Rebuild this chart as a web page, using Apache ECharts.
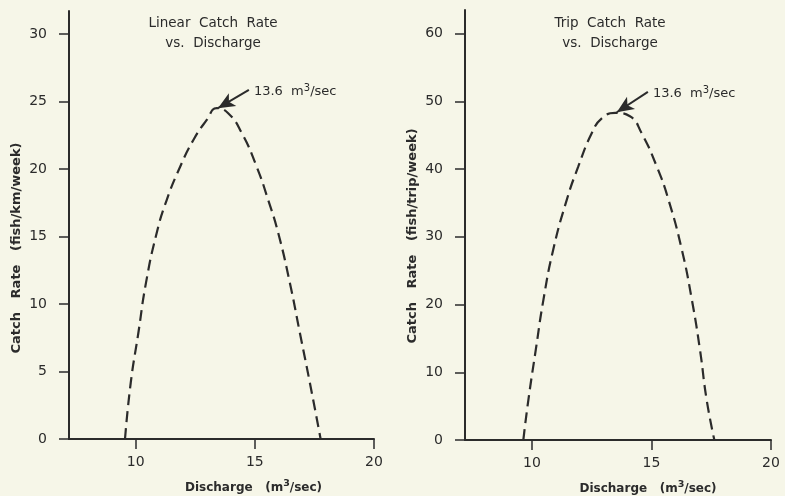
<!DOCTYPE html>
<html>
<head>
<meta charset="utf-8">
<script src="https://cdn.jsdelivr.net/npm/echarts@6/dist/echarts.min.js"></script>
<style>
  html, body { margin: 0; padding: 0; background: #f6f6e8; }
  #chart { width: 785px; height: 496px; }
</style>
</head>
<body>
<div id="chart"></div>
<script>
// ---- data ----
const linearCurve = [
  [9.55, 0], [9.79, 4.15], [10.11, 7.85], [10.43, 11.56], [10.88, 15.26], [11.30, 17.7],
  [11.86, 20.15], [12.42, 22.15], [12.98, 23.63], [13.40, 24.5], [13.88, 24.13],
  [14.45, 22.67], [15.08, 20.15], [15.56, 17.7], [15.98, 15.26], [16.47, 11.56],
  [16.89, 7.85], [17.31, 4.15], [17.76, 0]
];
const tripCurve = [
  [9.64, 0], [9.85, 5.9], [10.16, 13.3], [10.48, 20.7], [10.89, 28.1], [11.46, 35.5],
  [11.94, 40.4], [12.50, 45.3], [12.92, 47.5], [13.48, 48.3], [14.10, 47.8],
  [14.59, 45.3], [15.22, 40.4], [15.71, 35.5], [16.27, 28.1], [16.69, 20.7],
  [17.03, 13.3], [17.31, 5.9], [17.63, 0]
];
const xTicks = [10, 15, 20];
const linearYTicks = [0, 5, 10, 15, 20, 25, 30];
const tripYTicks = [0, 10, 20, 30, 40, 50, 60];
const linearArrow = [[14.75, 25.85], [13.45, 24.5]];
const tripArrow = [[14.85, 51.4], [13.55, 48.4]];
const peakLabel = '13.6';
const titles = ['Linear  Catch  Rate\nvs.  Discharge', 'Trip  Catch  Rate\nvs.  Discharge'];
const yNames = ['Catch   Rate   (fish/km/week)', 'Catch   Rate   (fish/trip/week)'];

// ---- styling ----
const ink = '#2b2b2b';
const font = 'DejaVu Sans';
const supRich = {
  a: { fontFamily: font, fontSize: 13, color: ink, lineHeight: 18 },
  s: { fontFamily: font, fontSize: 10, color: ink, lineHeight: 10, verticalAlign: 'top' }
};
const nameRich = {
  a: { fontFamily: font, fontSize: 12, fontWeight: 'bold', color: ink, lineHeight: 18 },
  s: { fontFamily: font, fontSize: 9.5, fontWeight: 'bold', color: ink, lineHeight: 10, verticalAlign: 'top' }
};

function xAxis(gridIndex, padLeft) {
  return {
    type: 'value', gridIndex, min: 7.2, max: 20,
    name: '{a|Discharge   (m}{s|3}{a|/sec)}',
    nameLocation: 'middle', nameGap: 40,
    nameTextStyle: { rich: nameRich, padding: [0, 0, 0, padLeft] },
    axisLine: { show: true, onZero: false, lineStyle: { color: ink, width: 2 } },
    axisTick: { show: true, length: 10, customValues: xTicks, lineStyle: { color: ink, width: 1.5 } },
    axisLabel: { customValues: xTicks, margin: 16, fontFamily: font, fontSize: 14, color: ink },
    splitLine: { show: false }
  };
}
function yAxis(gridIndex, max, ticks, name, padRight) {
  return {
    type: 'value', gridIndex, min: 0, max,
    name, nameLocation: 'middle', nameGap: 46,
    nameTextStyle: { fontFamily: font, fontSize: 13, fontWeight: 'bold', color: ink, padding: [0, padRight, 0, 0] },
    axisLine: { show: true, onZero: false, lineStyle: { color: ink, width: 2 } },
    axisTick: { show: true, length: 10, customValues: ticks, lineStyle: { color: ink, width: 1.5 } },
    axisLabel: { customValues: ticks, margin: 22, fontFamily: font, fontSize: 14, color: ink },
    splitLine: { show: false }
  };
}
function curve(idx, data, arrow) {
  return {
    type: 'line', xAxisIndex: idx, yAxisIndex: idx, data,
    smooth: 0.5, symbol: 'none',
    lineStyle: { color: ink, width: 2.2, type: [11, 6] },
    markLine: {
      silent: true, symbol: ['none', 'arrow'], symbolSize: [11, 17],
      lineStyle: { color: ink, width: 2, type: 'solid' },
      label: { show: false },
      data: [[{ coord: arrow[0] }, { coord: arrow[1] }]]
    },
    markPoint: {
      silent: true, symbol: 'circle', symbolSize: 0,
      label: {
        show: true, position: 'right', distance: 5, offset: [0, 2],
        formatter: '{a|' + peakLabel + '  m}{s|3}{a|/sec}', rich: supRich
      },
      data: [{ coord: arrow[0] }]
    }
  };
}

const chart = echarts.init(document.getElementById('chart'), null, { renderer: 'canvas' });
const titleStyle = { fontFamily: font, fontSize: 13.5, fontWeight: 'normal', color: ink, lineHeight: 20 };
chart.setOption({
  backgroundColor: '#f6f6e8',
  animation: false,
  title: [
    { text: titles[0], left: 208, top: 8, textAlign: 'center', textStyle: titleStyle },
    { text: titles[1], left: 605, top: 8, textAlign: 'center', textStyle: titleStyle }
  ],
  grid: [
    { left: 69, top: 11, width: 305, height: 428, outerBoundsMode: 'none', containLabel: false },
    { left: 465, top: 10, width: 306, height: 430, outerBoundsMode: 'none', containLabel: false }
  ],
  xAxis: [xAxis(0, 64), xAxis(1, 60)],
  yAxis: [
    yAxis(0, 31.7, linearYTicks, yNames[0], 46),
    yAxis(1, 63.5, tripYTicks, yNames[1], 22)
  ],
  series: [curve(0, linearCurve, linearArrow), curve(1, tripCurve, tripArrow)]
});
</script>
</body>
</html>
